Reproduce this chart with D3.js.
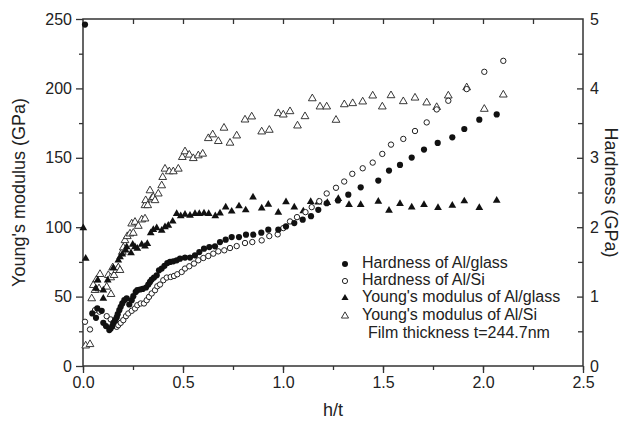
<!DOCTYPE html>
<html><head><meta charset="utf-8">
<script src="https://cdn.jsdelivr.net/npm/d3@7"></script>
<style>body{margin:0;background:#fff}svg{display:block}text{font-family:"Liberation Sans",Arial,sans-serif;fill:#222}</style>
</head><body><svg id="c" width="628" height="424"></svg>
<script>
// Hardness of Al/glass (GPa, right axis)
const hGlassX=[0.01,0.0465,0.065,0.0715,0.0935,0.1015,0.115,0.1315,0.1385,0.1465,0.1515,0.16,0.1685,0.1735,0.1815,0.1885,0.1965,0.2065,0.2185,0.2315,0.2435,0.2515,0.2635,0.2715,0.285,0.2985,0.315,0.3265,0.335,0.3435,0.355,0.3685,0.38,0.3935,0.4075,0.4215,0.435,0.4515,0.4685,0.485,0.51,0.535,0.56,0.5815,0.605,0.6315,0.66,0.685,0.7135,0.7435,0.78,0.815,0.8515,0.8915,0.9265,0.9765,1.015,1.0565,1.0985,1.14,1.1765,1.2185,1.275,1.3265,1.3885,1.4765,1.53,1.585,1.6435,1.705,1.7735,1.8465,1.9065,1.9815,2.0685];
const hGlassY=[4.92,0.757,0.694,0.829,0.795,0.622,0.575,0.517,0.542,0.575,0.622,0.661,0.70,0.747,0.805,0.852,0.901,0.948,0.973,0.886,0.948,1.006,1.068,1.092,1.102,1.111,1.131,1.174,1.211,1.246,1.274,1.307,1.379,1.404,1.444,1.484,1.499,1.509,1.523,1.547,1.562,1.562,1.595,1.642,1.691,1.714,1.724,1.786,1.820,1.858,1.858,1.892,1.892,1.921,1.964,1.964,2.011,2.059,2.109,2.159,2.251,2.345,2.385,2.468,2.575,2.672,2.816,2.898,3.003,3.118,3.214,3.295,3.415,3.549,3.625];
// Hardness of Al/Si (GPa, right axis)
const hSiX=[0.01,0.035,0.06,0.0825,0.1185,0.1385,0.1515,0.16,0.1685,0.1765,0.1885,0.2015,0.215,0.2265,0.2435,0.26,0.2715,0.2885,0.305,0.3185,0.33,0.3435,0.36,0.3715,0.385,0.4015,0.4185,0.4385,0.455,0.4715,0.4935,0.51,0.5315,0.555,0.5765,0.6015,0.6265,0.6515,0.6765,0.7065,0.735,0.7685,0.81,0.8465,0.8935,0.9315,0.9735,1.0015,1.035,1.07,1.1125,1.1435,1.1815,1.2185,1.265,1.306,1.3465,1.3985,1.4485,1.4965,1.54,1.6015,1.66,1.7185,1.7685,1.8265,1.9185,2.0065,2.1015];
const hSiY=[0.637,0.527,0.805,0.783,0.718,0.671,0.589,0.613,0.565,0.589,0.622,0.661,0.718,0.757,0.795,0.829,0.876,0.901,0.901,0.948,0.996,1.045,1.092,1.149,1.174,1.236,1.274,1.283,1.297,1.322,1.355,1.404,1.437,1.476,1.523,1.556,1.585,1.619,1.652,1.667,1.700,1.728,1.772,1.786,1.810,1.872,1.897,1.987,2.083,2.145,2.217,2.289,2.375,2.486,2.568,2.658,2.769,2.849,2.931,3.056,3.190,3.272,3.386,3.510,3.697,3.822,3.990,4.239,4.397];
// Young's modulus of Al/glass (GPa, left axis)
const eGlassX=[0.0015,0.0135,0.065,0.0735,0.1015,0.1015,0.1235,0.1515,0.1765,0.185,0.1965,0.2135,0.2185,0.24,0.2485,0.26,0.2715,0.2935,0.31,0.3215,0.3385,0.3515,0.3685,0.3935,0.41,0.4265,0.4485,0.4685,0.4885,0.51,0.535,0.56,0.5815,0.605,0.6285,0.6615,0.685,0.7135,0.7435,0.78,0.8135,0.85,0.8935,0.9265,0.9765,1.015,1.0565,1.1015,1.1385,1.1765,1.2215,1.2765,1.33,1.3885,1.4765,1.53,1.585,1.6435,1.705,1.775,1.8465,1.9065,1.9815,2.0685];
const eGlassY=[99.4,77.4,55.8,61.8,48.6,54.6,61.8,70.6,76.1,78.5,80.5,83.3,85.7,81.4,87.6,85.7,84.6,87.6,86.2,88.1,95.8,98.2,99.4,97.7,100.1,101.3,104.2,109.7,108.0,109.2,108.5,109.7,109.7,110.1,109.7,108.0,110.1,114.4,111.4,115.2,112.3,121.6,113.7,116.4,110.6,118.2,114.4,111.6,118.3,118.0,117.6,120.5,116.2,116.2,118.5,112.1,116.9,114.4,116.2,114.0,115.7,118.8,114.0,119.3];
// Young's modulus of Al/Si (GPa, left axis)
const eSiX=[0.0135,0.035,0.0435,0.0515,0.06,0.0685,0.08,0.085,0.1185,0.1265,0.1385,0.14,0.1485,0.155,0.1685,0.1765,0.185,0.1965,0.2015,0.21,0.2215,0.235,0.2435,0.2515,0.26,0.2765,0.2935,0.31,0.31,0.3135,0.3235,0.335,0.3435,0.3515,0.36,0.3765,0.3935,0.3985,0.41,0.4315,0.4515,0.4765,0.4965,0.51,0.5315,0.5515,0.5765,0.5985,0.6265,0.6485,0.6765,0.705,0.735,0.7685,0.81,0.8435,0.8935,0.9315,0.9765,1.0015,1.035,1.0725,1.11,1.1465,1.185,1.2185,1.265,1.3065,1.3485,1.3985,1.4485,1.4965,1.54,1.6015,1.66,1.7185,1.7685,1.8265,1.9185,2.0065,2.1015];
const eSiY=[14.6,15.6,48.6,58.2,54.6,62.3,55.8,66.1,57.0,65.4,63.7,51.7,70.9,65.4,69.0,70.9,69.0,82.1,85.3,90.5,93.4,95.3,102.5,95.8,103.7,100.8,105.4,106.1,115.7,119.3,115.7,126.4,120.5,121.6,119.3,124.1,130.0,136.0,142.0,140.1,140.1,142.0,150.4,154.5,152.1,149.6,151.6,152.8,164.0,166.7,161.9,171.5,160.7,165.9,177.4,179.6,168.8,170.0,182.0,181.0,183.4,173.1,179.8,192.7,186.8,186.8,177.2,188.4,189.2,190.4,194.7,186.8,194.9,190.6,193.2,189.7,186.4,194.7,200.6,185.1,195.4];
const xTicks=[0,0.5,1.0,1.5,2.0,2.5];
const yLeftTicks=[0,50,100,150,200,250];
const yRightTicks=[0,1,2,3,4,5];
const legendLabels=["Hardness of Al/glass","Hardness of Al/Si","Young's modulus of Al/glass","Young's modulus of Al/Si"];
const noteText="Film thickness t=244.7nm";

const svg=d3.select("#c");
const L=83,R=583,T=19,B=366;
const x=d3.scaleLinear().domain([0,2.5]).range([L,R]);
const yL=d3.scaleLinear().domain([0,250]).range([B,T]);
const yR=d3.scaleLinear().domain([0,5]).range([B,T]);
const ink="#333";

function styleAxis(g){g.select(".domain").remove();g.selectAll("line").attr("stroke",ink).attr("stroke-width",1.3);g.selectAll("text").attr("font-size",16).style("fill","#222");}
svg.append("g").attr("transform",`translate(0,${B})`).call(d3.axisBottom(x).tickValues(d3.range(0,2.51,0.25)).tickSize(4).tickFormat("")).call(styleAxis);
svg.append("g").attr("transform",`translate(0,${B})`).call(d3.axisBottom(x).tickValues(xTicks).tickSize(7).tickPadding(4).tickFormat(d3.format(".1f"))).call(styleAxis);
svg.append("g").attr("transform",`translate(0,${T})`).call(d3.axisBottom(x).tickValues(d3.range(0.25,2.5,0.25)).tickSize(5).tickFormat("")).call(styleAxis);
svg.append("g").attr("transform",`translate(${L},0)`).call(d3.axisLeft(yL).tickValues(d3.range(25,250,50)).tickSize(4).tickFormat("")).call(styleAxis);
svg.append("g").attr("transform",`translate(${L},0)`).call(d3.axisLeft(yL).tickValues(yLeftTicks).tickSize(7).tickPadding(4).tickFormat(d3.format("d"))).call(styleAxis);
svg.append("g").attr("transform",`translate(${R},0)`).call(d3.axisLeft(yR).tickValues(d3.range(0.5,5,1)).tickSize(5).tickFormat("")).call(styleAxis);
svg.append("g").attr("transform",`translate(${R},0)`).call(d3.axisLeft(yR).tickValues(yRightTicks.filter(d=>d>0&&d<5)).tickSize(6).tickFormat("")).call(styleAxis);
svg.append("g").attr("transform",`translate(${R},0)`).call(d3.axisRight(yR).tickValues(yRightTicks).tickSize(0).tickPadding(7).tickFormat(d3.format("d"))).call(styleAxis);
svg.append("rect").attr("x",L).attr("y",T).attr("width",R-L).attr("height",B-T).attr("fill","none").attr("stroke",ink).attr("stroke-width",1.5);

svg.append("text").attr("transform",`translate(20,${(T+B)/2}) rotate(-90)`).attr("text-anchor","middle").attr("dominant-baseline","middle").attr("font-size",18).text("Young's modulus (GPa)");
svg.append("text").attr("transform",`translate(610,${(T+B)/2}) rotate(90)`).attr("text-anchor","middle").attr("dominant-baseline","middle").attr("font-size",18).text("Hardness (GPa)");
svg.append("text").attr("x",(L+R)/2).attr("y",416).attr("text-anchor","middle").attr("font-size",18).text("h/t");

const tri=d3.symbol().type(d3.symbolTriangle).size(26);
const triL=d3.symbol().type(d3.symbolTriangle).size(22);
const plot=svg.append("g");
plot.selectAll(".es").data(d3.zip(eSiX,eSiY)).join("path").attr("d",tri).attr("transform",d=>`translate(${x(d[0])},${yL(d[1])})`).attr("fill","#fff").attr("stroke","#222").attr("stroke-width",0.9);
plot.selectAll(".eg").data(d3.zip(eGlassX,eGlassY)).join("path").attr("d",tri).attr("transform",d=>`translate(${x(d[0])},${yL(d[1])})`).attr("fill","#111");
plot.selectAll(".hs").data(d3.zip(hSiX,hSiY)).join("circle").attr("cx",d=>x(d[0])).attr("cy",d=>yR(d[1])).attr("r",2.7).attr("fill","#fff").attr("stroke","#222").attr("stroke-width",1);
plot.selectAll(".hg").data(d3.zip(hGlassX,hGlassY)).join("circle").attr("cx",d=>x(d[0])).attr("cy",d=>yR(d[1])).attr("r",3.1).attr("fill","#111");

const lg=svg.append("g");
const ly=[264,281,298,316];
legendLabels.forEach((t,i)=>{
  const cx=345,cy=ly[i];
  if(i===0)lg.append("circle").attr("cx",cx).attr("cy",cy).attr("r",3).attr("fill","#111");
  if(i===1)lg.append("circle").attr("cx",cx).attr("cy",cy).attr("r",2.6).attr("fill","#fff").attr("stroke","#222");
  if(i===2)lg.append("path").attr("d",triL).attr("transform",`translate(${cx},${cy})`).attr("fill","#111");
  if(i===3)lg.append("path").attr("d",triL).attr("transform",`translate(${cx},${cy})`).attr("fill","#fff").attr("stroke","#222").attr("stroke-width",0.9);
  lg.append("text").attr("x",362).attr("y",cy).attr("dominant-baseline","middle").attr("font-size",16).text(t);
});
lg.append("text").attr("x",368).attr("y",334).attr("dominant-baseline","middle").attr("font-size",16).text(noteText);
</script></body></html>
